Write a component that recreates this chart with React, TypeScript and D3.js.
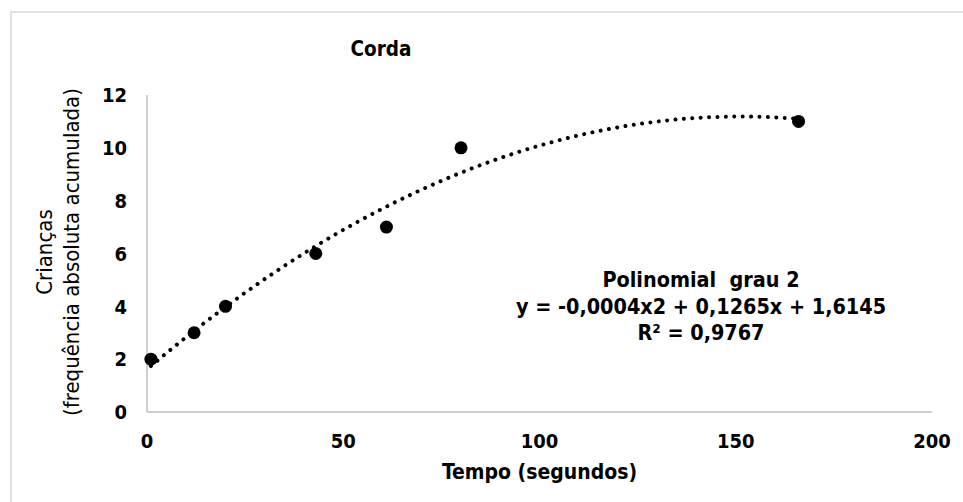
import React from "react";
import * as d3 from "d3";

const xValues = [1, 12, 20, 43, 61, 80, 166];
const yValues = [2, 3, 4, 6, 7, 10, 11];
const xTicks = [0, 50, 100, 150, 200];
const yTicks = [0, 2, 4, 6, 8, 10, 12];
const title = "Corda";
const xTitle = "Tempo (segundos)";
const yTitleLines = ["Crianças", "(frequência absoluta acumulada)"];
const trendLabel = ["Polinomial  grau 2", "y = -0,0004x2 + 0,1265x + 1,6145", "R² = 0,9767"];

// least-squares quadratic fit (Excel polynomial trendline, order 2)
function polyfit2(xs: number[], ys: number[]) {
  const s = (f: (x: number, y: number) => number) => xs.reduce((acc, x, i) => acc + f(x, ys[i]), 0);
  const n = xs.length;
  const sx = s((x) => x), sx2 = s((x) => x * x), sx3 = s((x) => x ** 3), sx4 = s((x) => x ** 4);
  const sy = s((_, y) => y), sxy = s((x, y) => x * y), sx2y = s((x, y) => x * x * y);
  const M = [
    [n, sx, sx2, sy],
    [sx, sx2, sx3, sxy],
    [sx2, sx3, sx4, sx2y],
  ];
  for (let i = 0; i < 3; i++) {
    for (let k = i + 1; k < 3; k++) {
      const f = M[k][i] / M[i][i];
      for (let j = i; j < 4; j++) M[k][j] -= f * M[i][j];
    }
  }
  const r = [0, 0, 0];
  for (let i = 2; i >= 0; i--) {
    let v = M[i][3];
    for (let j = i + 1; j < 3; j++) v -= M[i][j] * r[j];
    r[i] = v / M[i][i];
  }
  return r; // c, b, a
}

export default function App() {
  const W = 963, H = 502;
  const x = d3.scaleLinear().domain([0, 200]).range([147, 932]);
  const y = d3.scaleLinear().domain([0, 12]).range([412, 95]);
  const [c, b, a] = polyfit2(xValues, yValues);
  const [xmin, xmax] = d3.extent(xValues) as [number, number];
  const trendPts = d3.range(0, 201).map((i) => {
    const xv = xmin + ((xmax - xmin) * i) / 200;
    return [xv, a * xv * xv + b * xv + c] as [number, number];
  });
  const line = d3.line<[number, number]>().x((d) => x(d[0])).y((d) => y(d[1])).curve(d3.curveLinear);
  const font = "'DejaVu Sans Condensed', 'DejaVu Sans', sans-serif";
  return (
    <svg width={W} height={H} style={{ position: "absolute", left: 0, top: 0, background: "#fff" }} fontFamily={font}>
      <rect x={0} y={0} width={W} height={H} fill="#fff" />
      <rect x={11} y={12} width={980} height={520} fill="none" stroke="#d9d9d9" strokeWidth={1.5} />
      <text x={381} y={56} textAnchor="middle" fontSize={20.5} fontWeight="bold" fill="#000">{title}</text>
      {/* axes */}
      <line x1={x(0)} x2={x(0)} y1={y(12)} y2={y(0)} stroke="#bfbfbf" strokeWidth={1.5} />
      <line x1={x(0)} x2={x(200)} y1={y(0)} y2={y(0)} stroke="#bfbfbf" strokeWidth={1.5} />
      {yTicks.map((t) => (
        <text key={"y" + t} x={127} y={y(t)} dy="0.36em" textAnchor="end" fontSize={20} fontWeight="bold" fill="#000">{t}</text>
      ))}
      {xTicks.map((t) => (
        <text key={"x" + t} x={x(t)} y={448} textAnchor="middle" fontSize={20} fontWeight="bold" fill="#000">{t}</text>
      ))}
      <text x={(x(0) + x(200)) / 2} y={479} textAnchor="middle" fontSize={21} fontWeight="bold" fill="#000">{xTitle}</text>
      <g transform="translate(0,252) rotate(-90)">
        <text x={0} y={52} textAnchor="middle" fontSize={22} fill="#000">{yTitleLines[0]}</text>
        <text x={0} y={79} textAnchor="middle" fontSize={22} fill="#000">{yTitleLines[1]}</text>
      </g>
      {/* trendline */}
      <path d={line(trendPts) || ""} fill="none" stroke="#000" strokeWidth={4} strokeLinecap="round" strokeDasharray="0.01 8.4" />
      {xValues.map((xv, i) => (
        <circle key={i} cx={x(xv)} cy={y(yValues[i])} r={6.5} fill="#000" />
      ))}
      {trendLabel.map((t, i) => (
        <text key={"t" + i} x={701} y={287 + i * 26.5} textAnchor="middle" fontSize={21.4} fontWeight="bold" fill="#000" style={{ whiteSpace: "pre" }}>{t}</text>
      ))}
    </svg>
  );
}
